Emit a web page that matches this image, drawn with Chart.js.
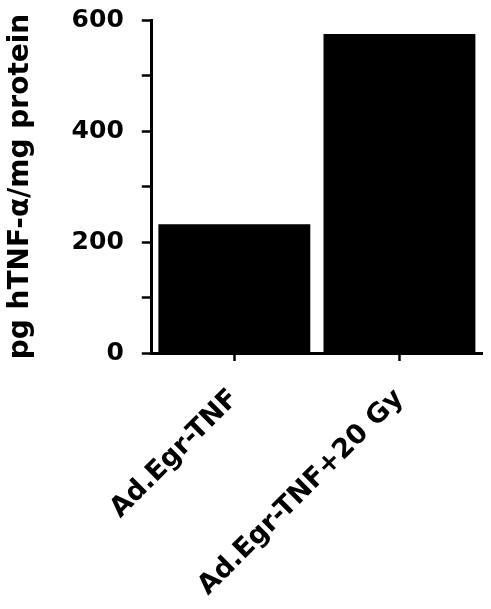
<!DOCTYPE html>
<html lang="en">
<head>
    <meta charset="UTF-8">
    <title>hTNF-alpha</title>
    <style>
        body { margin: 0; background: #fff; }
        #wrap { width: 491px; height: 609px; }
    </style>
</head>
<body>
    <div id="wrap">
        <canvas id="myChart" width="491" height="609"></canvas>
    </div>

    <script src="https://cdn.jsdelivr.net/npm/chart.js"></script>

    <script>
        // valores
        const categories = ['Ad.Egr-TNF', 'Ad.Egr-TNF+20 Gy'];
        const tnfValues = [232, 575];
        const yMax = 600;
        const yStep = 100;     // ticks menores a cada 100, rótulos a cada 200
        const yLabelEvery = 200;
        const yTitle = 'pg hTNF-\u03b1/mg protein';

        const font = { family: '"DejaVu Sans", "Liberation Sans", sans-serif', weight: 'bold' };

        new Chart(document.getElementById('myChart'), {
            type: 'bar',
            data: {
                labels: categories,
                datasets: [{
                    data: tnfValues,
                    backgroundColor: '#000',
                    borderWidth: 0,
                    barPercentage: 0.92,
                    categoryPercentage: 1.0
                }]
            },
            options: {
                responsive: false,
                animation: false,
                plugins: { legend: { display: false }, tooltip: { enabled: false } },
                layout: { padding: { top: 0, right: 9, left: 4, bottom: 0 } },
                scales: {
                    x: {
                        // altura fixa da faixa dos rótulos inclinados
                        afterFit: scale => { scale.height = 256; },
                        grid: {
                            offset: false,
                            drawOnChartArea: false,
                            tickLength: 8,
                            tickWidth: 2.5,
                            tickColor: '#000'
                        },
                        border: { color: '#000', width: 3 },
                        ticks: {
                            color: '#000',
                            font: { ...font, size: 27 },
                            minRotation: 45,
                            maxRotation: 45,
                            padding: 22
                        }
                    },
                    y: {
                        min: 0,
                        max: yMax,
                        // o padding dos ticks não deve empurrar o topo para baixo
                        afterFit: scale => { scale.paddingTop = 20; },
                        grid: {
                            drawOnChartArea: false,
                            tickLength: 10,
                            tickWidth: 2.5,
                            tickColor: '#000'
                        },
                        border: { color: '#000', width: 3 },
                        ticks: {
                            stepSize: yStep,
                            color: '#000',
                            font: { ...font, size: 25 },
                            padding: 18,
                            callback: v => (v % yLabelEvery === 0 ? v : '')
                        },
                        title: {
                            display: true,
                            text: yTitle,
                            color: '#000',
                            font: { ...font, size: 28 },
                            padding: { top: 0, bottom: 16 }
                        }
                    }
                }
            }
        });
    </script>
</body>
</html>
